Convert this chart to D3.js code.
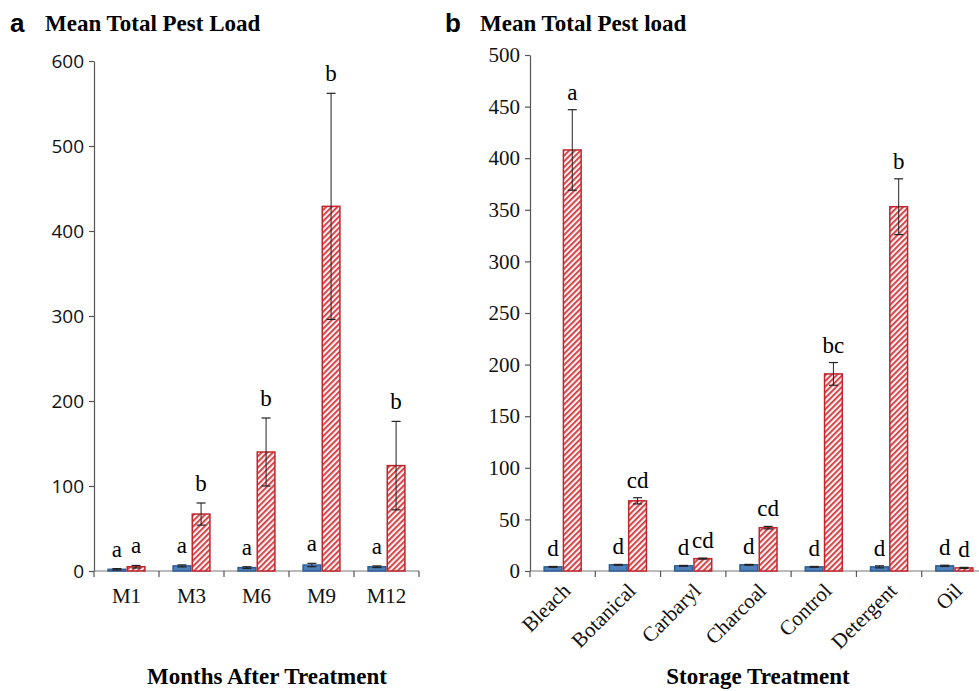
<!DOCTYPE html>
<html>
<head>
<meta charset="utf-8">
<script src="https://cdn.jsdelivr.net/npm/d3@7"></script>
<style>
  body { margin: 0; background: #fff; }
  svg { display: block; }
</style>
</head>
<body>
<svg id="chart" width="979" height="691"></svg>
<script>
// ---- Panel a: months after treatment ----
const monthCats = ["M1", "M3", "M6", "M9", "M12"];
const monthTicks = [0, 100, 200, 300, 400, 500, 600];
const monthBlue = [2, 6, 4, 7, 5];
const monthBlueErr = [0.8, 1.2, 1, 2, 1];
const monthRed = [5, 67, 140, 429, 124];
const monthRedErr = [1.5, 13, 40, 133, 52];
const monthBlueLetters = ["a", "a", "a", "a", "a"];
const monthRedLetters = ["a", "b", "b", "b", "b"];

// ---- Panel b: storage treatment ----
const storeCats = ["Bleach", "Botanical", "Carbaryl", "Charcoal", "Control", "Detergent", "Oil"];
const storeTicks = [0, 50, 100, 150, 200, 250, 300, 350, 400, 450, 500];
const storeBlue = [4, 6, 5, 6, 4, 4, 5];
const storeBlueErr = [0.4, 0.4, 0.4, 0.4, 0.4, 1, 0.6];
const storeRed = [408, 68, 12, 42, 191, 353, 3];
const storeRedErr = [39, 3, 0.5, 1.2, 11, 27, 0.5];
const storeBlueLetters = ["d", "d", "d", "d", "d", "d", "d"];
const storeRedLetters = ["a", "cd", "cd", "cd", "bc", "b", "d"];

const svg = d3.select("#chart");
const serif = "'Liberation Serif', 'Times New Roman', serif";

// Diagonal red hatch used for the second series
const defs = svg.append("defs");
const pat = defs.append("pattern")
  .attr("id", "hatch")
  .attr("patternUnits", "userSpaceOnUse")
  .attr("width", 4).attr("height", 4)
  .attr("patternTransform", "rotate(45)");
pat.append("rect").attr("width", 4).attr("height", 4).attr("fill", "#fdf0f0");
pat.append("rect").attr("width", 1.8).attr("height", 4).attr("fill", "#d2383d");

function panel(opt) {
  const g = svg.append("g");
  const x = d3.scaleBand().domain(opt.cats).range([opt.x0, opt.x1]).padding(0);
  const inner = d3.scaleBand().domain(["blue", "red"])
    .range([x.bandwidth() * 0.205, x.bandwidth() * 0.795]).padding(0);
  const y = d3.scaleLinear().domain([0, opt.ymax]).range([opt.y0, opt.y1]);

  // y axis
  const yAxis = d3.axisLeft(y).tickValues(opt.ticks).tickSize(5).tickPadding(5).tickSizeOuter(0);
  const ya = g.append("g").attr("transform", `translate(${opt.x0},0)`).call(yAxis);
  ya.select(".domain").attr("stroke", "#555").attr("stroke-width", 1.2);
  ya.selectAll(".tick line").attr("stroke", "#555").attr("stroke-width", 1.2);
  ya.selectAll(".tick text")
    .attr("font-family", opt.tickFont).attr("font-size", opt.tickSize).attr("fill", "#111");

  // x axis baseline with ticks at category boundaries
  g.append("line")
    .attr("x1", opt.x0).attr("x2", opt.x1)
    .attr("y1", opt.y0).attr("y2", opt.y0)
    .attr("stroke", "#777").attr("stroke-width", 1.2);
  const bounds = opt.cats.map(c => x(c)).concat([opt.x1]);
  g.selectAll(".xt").data(bounds).enter().append("line")
    .attr("x1", d => d).attr("x2", d => d)
    .attr("y1", opt.y0).attr("y2", opt.y0 + 6)
    .attr("stroke", "#555").attr("stroke-width", 1.2);

  const rows = opt.cats.map((c, i) => ({
    c, blue: opt.blue[i], blueErr: opt.blueErr[i], red: opt.red[i], redErr: opt.redErr[i],
    lb: opt.blueLetters[i], lr: opt.redLetters[i]
  }));

  const series = [
    { key: "blue", fill: "#4f81bd", stroke: "#2f5d95", val: "blue", err: "blueErr", lab: "lb" },
    { key: "red", fill: "url(#hatch)", stroke: "#c0272d", val: "red", err: "redErr", lab: "lr" }
  ];

  series.forEach(s => {
    const bx = d => x(d.c) + inner(s.key);
    const bw = inner.bandwidth();
    g.selectAll(".bar-" + s.key).data(rows).enter().append("rect")
      .attr("x", d => bx(d) + 0.75)
      .attr("y", d => y(d[s.val]))
      .attr("width", bw - 1.5)
      .attr("height", d => y(0) - y(d[s.val]))
      .attr("fill", s.fill)
      .attr("stroke", s.stroke)
      .attr("stroke-width", 1.5);

    // error bars
    const eg = g.selectAll(".err-" + s.key).data(rows).enter().append("g");
    const cx = d => bx(d) + bw / 2;
    eg.append("line")
      .attr("x1", cx).attr("x2", cx)
      .attr("y1", d => y(d[s.val] + d[s.err])).attr("y2", d => y(Math.max(0, d[s.val] - d[s.err])))
      .attr("stroke", "#222").attr("stroke-width", 1);
    [1, -1].forEach(sign => {
      eg.append("line")
        .attr("x1", d => cx(d) - 4.5).attr("x2", d => cx(d) + 4.5)
        .attr("y1", d => y(Math.max(0, d[s.val] + sign * d[s.err])))
        .attr("y2", d => y(Math.max(0, d[s.val] + sign * d[s.err])))
        .attr("stroke", "#222").attr("stroke-width", 1.2);
    });

    // significance letters
    g.selectAll(".lab-" + s.key).data(rows).enter().append("text")
      .attr("x", cx)
      .attr("y", d => y(d[s.val] + d[s.err]) - opt.letterGap)
      .attr("text-anchor", "middle")
      .attr("font-family", serif)
      .attr("font-size", opt.letterSize)
      .attr("fill", "#000")
      .text(d => d[s.lab]);
  });

  // category labels
  const cl = g.selectAll(".cl").data(opt.cats).enter().append("text")
    .attr("font-family", serif).attr("font-size", opt.catSize).attr("fill", "#111")
    .text(d => d);
  if (opt.rotate) {
    cl.attr("text-anchor", "end")
      .attr("transform", d => `translate(${x(d) + x.bandwidth() / 2 + 9},${opt.y0 + 21}) rotate(-45)`);
  } else {
    cl.attr("text-anchor", "middle")
      .attr("x", d => x(d) + x.bandwidth() / 2)
      .attr("y", opt.y0 + 32);
  }

  // panel letter and title
  g.append("text").attr("x", opt.letterX).attr("y", 32)
    .attr("font-family", "'Liberation Sans', Arial, sans-serif").attr("font-weight", "bold")
    .attr("font-size", 26).text(opt.panelLetter);
  g.append("text").attr("x", opt.letterX + 35).attr("y", 31)
    .attr("font-family", serif).attr("font-weight", "bold")
    .attr("font-size", 23).text(opt.title);

  // axis title
  g.append("text").attr("x", opt.axisTitleX).attr("y", 684)
    .attr("text-anchor", "middle")
    .attr("font-family", serif).attr("font-weight", "bold")
    .attr("font-size", 23).text(opt.axisTitle);
}

panel({
  cats: monthCats, ticks: monthTicks, ymax: 600,
  blue: monthBlue, blueErr: monthBlueErr, red: monthRed, redErr: monthRedErr,
  blueLetters: monthBlueLetters, redLetters: monthRedLetters,
  x0: 94, x1: 419, y0: 571, y1: 61,
  tickFont: "'Open Sans', 'DejaVu Sans', sans-serif", tickSize: 19,
  letterSize: 23, letterGap: 12, catSize: 21, rotate: false,
  panelLetter: "a", letterX: 10, title: "Mean Total Pest Load",
  axisTitle: "Months After Treatment", axisTitleX: 267
});

panel({
  cats: storeCats, ticks: storeTicks, ymax: 500,
  blue: storeBlue, blueErr: storeBlueErr, red: storeRed, redErr: storeRedErr,
  blueLetters: storeBlueLetters, redLetters: storeRedLetters,
  x0: 530, x1: 987, y0: 571, y1: 55,
  tickFont: serif, tickSize: 21,
  letterSize: 23, letterGap: 10, catSize: 21, rotate: true,
  panelLetter: "b", letterX: 445, title: "Mean Total Pest load",
  axisTitle: "Storage Treatment", axisTitleX: 758
});
</script>
</body>
</html>
